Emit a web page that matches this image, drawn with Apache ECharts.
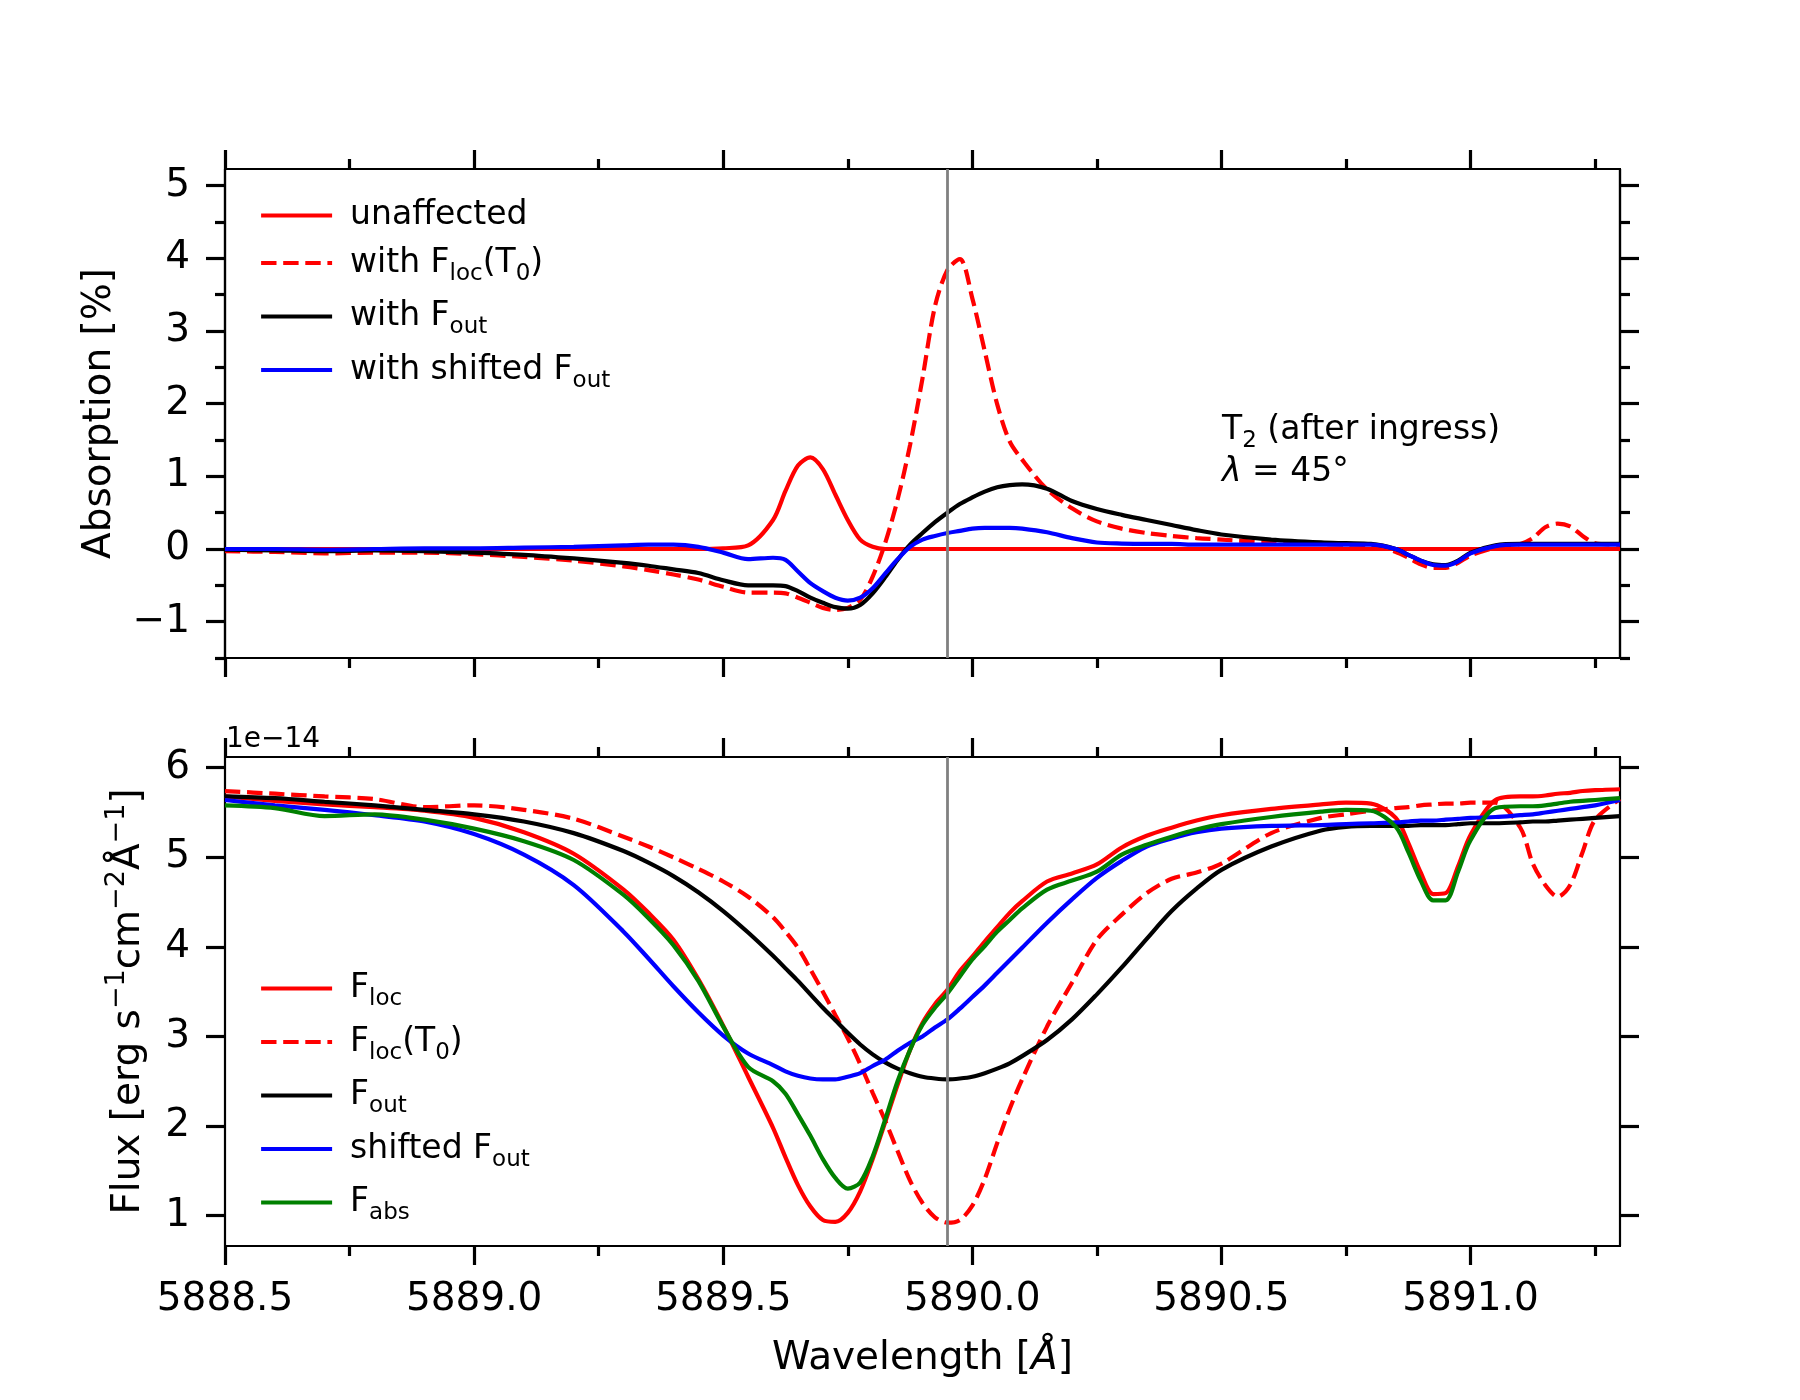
<!DOCTYPE html>
<html>
<head>
<meta charset="utf-8">
<script src="https://cdn.jsdelivr.net/npm/echarts@6/dist/echarts.min.js"></script>
<style>
html,body{margin:0;padding:0;background:#ffffff;}
#chart{width:1800px;height:1400px;}
</style>
</head>
<body>
<div id="chart"></div>
<script>
// ---------------- data ----------------
const wavelength = [5888.5, 5888.6, 5888.7, 5888.8, 5888.9, 5889.0, 5889.1, 5889.2, 5889.3, 5889.35, 5889.4,
  5889.45, 5889.5, 5889.55, 5889.6, 5889.625, 5889.65, 5889.675, 5889.7, 5889.725, 5889.75,
  5889.775, 5889.8, 5889.825, 5889.85, 5889.875, 5889.9, 5889.925, 5889.95, 5889.975, 5890.0,
  5890.025, 5890.05, 5890.075, 5890.1, 5890.15, 5890.2, 5890.25, 5890.3, 5890.35, 5890.4,
  5890.45, 5890.5, 5890.6, 5890.7, 5890.75, 5890.8, 5890.85, 5890.875, 5890.9, 5890.925,
  5890.95, 5890.975, 5891.0, 5891.05, 5891.1, 5891.125, 5891.15, 5891.175, 5891.2, 5891.225,
  5891.25, 5891.3];

// Absorption [%]
const absUnaffected = [0, 0, 0, 0, 0, 0, 0, 0, 0, 0, 0,
  0, 0.01, 0.05, 0.40, 0.80, 1.15, 1.26, 1.10, 0.75, 0.40,
  0.13, 0.03, 0, 0, 0, 0, 0, 0, 0, 0,
  0, 0, 0, 0, 0, 0, 0, 0, 0, 0,
  0, 0, 0, 0, 0, 0, 0, 0, 0, 0,
  0, 0, 0, 0, 0, 0, 0, 0, 0, 0,
  0, 0];
const absWithFlocT0 = [-0.03, -0.04, -0.06, -0.05, -0.05, -0.07, -0.11, -0.16, -0.24, -0.29, -0.35,
  -0.42, -0.52, -0.60, -0.60, -0.61, -0.67, -0.74, -0.81, -0.84, -0.81,
  -0.70, -0.38, 0.08, 0.68, 1.43, 2.35, 3.34, 3.84, 3.99, 3.45,
  2.72, 1.99, 1.48, 1.23, 0.82, 0.56, 0.38, 0.28, 0.22, 0.18,
  0.15, 0.13, 0.09, 0.07, 0.06, 0.05, -0.04, -0.12, -0.21, -0.26,
  -0.26, -0.19, -0.09, 0.02, 0.07, 0.15, 0.30, 0.35, 0.31, 0.18,
  0.08, 0.06];
const absWithFout = [-0.01, -0.02, -0.03, -0.02, -0.03, -0.05, -0.08, -0.13, -0.19, -0.23, -0.28,
  -0.33, -0.43, -0.50, -0.50, -0.51, -0.58, -0.67, -0.74, -0.80, -0.82,
  -0.77, -0.61, -0.39, -0.15, 0.06, 0.22, 0.37, 0.50, 0.62, 0.71,
  0.79, 0.85, 0.88, 0.89, 0.83, 0.66, 0.55, 0.47, 0.40, 0.33,
  0.26, 0.20, 0.13, 0.09, 0.08, 0.07, 0.00, -0.08, -0.16, -0.21,
  -0.22, -0.16, -0.05, 0.05, 0.07, 0.07, 0.07, 0.07, 0.07, 0.07,
  0.07, 0.07];
const absWithShiftedFout = [0.0, 0.0, -0.01, 0.0, 0.01, 0.01, 0.02, 0.03, 0.05, 0.06, 0.06,
  0.03, -0.05, -0.14, -0.12, -0.15, -0.31, -0.47, -0.58, -0.67, -0.71,
  -0.67, -0.54, -0.34, -0.14, 0.03, 0.13, 0.18, 0.22, 0.25, 0.28,
  0.29, 0.29, 0.29, 0.28, 0.23, 0.15, 0.09, 0.075, 0.07, 0.07,
  0.06, 0.06, 0.06, 0.06, 0.06, 0.06, 0.00, -0.08, -0.16, -0.22,
  -0.23, -0.17, -0.06, 0.04, 0.06, 0.06, 0.06, 0.06, 0.06, 0.06,
  0.06, 0.06];

// Flux [1e-14 erg s^-1 cm^-2 A^-1]
const fluxLoc = [5.68, 5.63, 5.59, 5.56, 5.52, 5.44, 5.28, 5.04, 4.64, 4.38, 4.08,
  3.64, 3.12, 2.55, 1.98, 1.65, 1.34, 1.10, 0.95, 0.93, 1.03,
  1.27, 1.63, 2.04, 2.46, 2.85, 3.15, 3.36, 3.52, 3.73, 3.89,
  4.06, 4.22, 4.38, 4.51, 4.73, 4.82, 4.92, 5.11, 5.24, 5.33,
  5.41, 5.47, 5.54, 5.59, 5.61, 5.60, 5.44, 5.16, 4.83, 4.59,
  4.60, 4.90, 5.25, 5.64, 5.68, 5.68, 5.69, 5.71, 5.72, 5.74,
  5.75, 5.76];
const fluxLocT0 = [5.74, 5.71, 5.68, 5.65, 5.56, 5.58, 5.53, 5.43, 5.23, 5.12, 5.00,
  4.87, 4.73, 4.56, 4.33, 4.17, 3.99, 3.75, 3.50, 3.24, 2.98,
  2.69, 2.37, 2.06, 1.72, 1.39, 1.14, 0.98, 0.92, 0.95, 1.11,
  1.41, 1.81, 2.19, 2.52, 3.11, 3.60, 4.08, 4.36, 4.60, 4.76,
  4.83, 4.93, 5.27, 5.44, 5.48, 5.52, 5.55, 5.56, 5.58, 5.59,
  5.60, 5.60, 5.61, 5.61, 5.33, 4.93, 4.69, 4.56, 4.69, 5.06,
  5.42, 5.65];
const fluxOut = [5.68, 5.66, 5.62, 5.58, 5.53, 5.48, 5.40, 5.27, 5.07, 4.94, 4.79,
  4.61, 4.40, 4.16, 3.90, 3.76, 3.62, 3.47, 3.32, 3.18, 3.04,
  2.91, 2.80, 2.71, 2.64, 2.59, 2.55, 2.53, 2.52, 2.53, 2.55,
  2.59, 2.64, 2.70, 2.78, 2.96, 3.19, 3.47, 3.77, 4.09, 4.40,
  4.65, 4.86, 5.12, 5.30, 5.34, 5.35, 5.35, 5.35, 5.36, 5.36,
  5.36, 5.37, 5.38, 5.38, 5.39, 5.40, 5.40, 5.41, 5.42, 5.43,
  5.44, 5.46];
const fluxShiftedOut = [5.64, 5.58, 5.53, 5.47, 5.40, 5.26, 5.03, 4.69, 4.17, 3.87, 3.56,
  3.27, 3.01, 2.81, 2.68, 2.61, 2.56, 2.53, 2.52, 2.52, 2.55,
  2.59, 2.67, 2.74, 2.84, 2.93, 3.00, 3.10, 3.19, 3.31, 3.44,
  3.57, 3.71, 3.85, 3.99, 4.27, 4.53, 4.77, 4.96, 5.12, 5.21,
  5.28, 5.32, 5.35, 5.36, 5.37, 5.38, 5.39, 5.40, 5.41, 5.41,
  5.42, 5.43, 5.44, 5.45, 5.47, 5.48, 5.50, 5.52, 5.54, 5.56,
  5.58, 5.64];
const fluxAbs = [5.58, 5.55, 5.46, 5.48, 5.42, 5.32, 5.18, 4.97, 4.58, 4.32, 4.02,
  3.62, 3.11, 2.66, 2.50, 2.36, 2.13, 1.89, 1.63, 1.42, 1.30,
  1.37, 1.66, 2.07, 2.50, 2.85, 3.13, 3.32, 3.48, 3.67, 3.86,
  4.01, 4.17, 4.30, 4.43, 4.64, 4.74, 4.84, 5.03, 5.14, 5.23,
  5.31, 5.37, 5.45, 5.51, 5.53, 5.52, 5.34, 5.06, 4.74, 4.52,
  4.52, 4.84, 5.19, 5.55, 5.57, 5.57, 5.58, 5.60, 5.62, 5.63,
  5.64, 5.66];

// ticks / labels
const xMajorTicks = [5888.5, 5889.0, 5889.5, 5890.0, 5890.5, 5891.0];
const xMinorTicks = [5888.75, 5889.25, 5889.75, 5890.25, 5890.75, 5891.25];
const absMajorTicks = [-1, 0, 1, 2, 3, 4, 5];
const absMinorTicks = [-1.5, -0.5, 0.5, 1.5, 2.5, 3.5, 4.5];
const fluxMajorTicks = [1, 2, 3, 4, 5, 6];
const restWavelength = 5889.95;
const fluxExponentLabel = '1e\u221214';
const topLegendNames = ['unaffected', 'with Floc(T0)', 'with Fout', 'with shifted Fout'];
const bottomLegendNames = ['Floc', 'Floc(T0)', 'Fout', 'shifted Fout', 'Fabs'];

// ---------------- chart ----------------
const FONT = 'DejaVu Sans';
const X_MIN = 5888.5, X_MAX = 5891.3;
const ABS_MIN = -1.5, ABS_MAX = 5.23;
const FLUX_MIN = 0.66, FLUX_MAX = 6.12;
const SPINE = 2.2, TICKW = 3.2, LINE = 4.2;
const DASH = [15.4, 6.7];
const RED = '#ff0000', BLUE = '#0000ff', BLACK = '#000000', GREEN = '#008000';

const pairs = arr => wavelength.map((w, i) => [w, arr[i]]);
const minusFmt = v => (v < 0 ? '\u2212' + Math.abs(v) : String(v));

function xAx(gridIndex, position, ticks, len, extra) {
  return Object.assign({
    type: 'value', gridIndex: gridIndex, position: position, min: X_MIN, max: X_MAX,
    axisLine: { show: true, onZero: false, lineStyle: { color: '#000', width: SPINE } },
    axisTick: { show: true, inside: false, length: len, customValues: ticks, lineStyle: { color: '#000', width: TICKW } },
    axisLabel: { show: false },
    splitLine: { show: false }, minorTick: { show: false }, minorSplitLine: { show: false }
  }, extra || {});
}
function yAx(gridIndex, position, min, max, ticks, len, extra) {
  return Object.assign({
    type: 'value', gridIndex: gridIndex, position: position, min: min, max: max,
    axisLine: { show: true, onZero: false, lineStyle: { color: '#000', width: SPINE } },
    axisTick: { show: true, inside: false, length: len, customValues: ticks, lineStyle: { color: '#000', width: TICKW } },
    axisLabel: { show: false },
    splitLine: { show: false }, minorTick: { show: false }, minorSplitLine: { show: false }
  }, extra || {});
}

const legendRich = {
  pad: { width: 13, fontSize: 33, lineHeight: 48, fontFamily: FONT },
  n: { fontSize: 33, lineHeight: 48, fontFamily: FONT, color: '#000' },
  s: { fontSize: 23, lineHeight: 26, padding: [22, 0, 0, 0], fontFamily: FONT, color: '#000' }
};
const legendLabels = {
  'unaffected': '{pad| }{n|unaffected}',
  'with Floc(T0)': '{pad| }{n|with F}{s|loc}{n|(T}{s|0}{n|)}',
  'with Fout': '{pad| }{n|with F}{s|out}',
  'with shifted Fout': '{pad| }{n|with shifted F}{s|out}',
  'Floc': '{pad| }{n|F}{s|loc}',
  'Floc(T0)': '{pad| }{n|F}{s|loc}{n|(T}{s|0}{n|)}',
  'Fout': '{pad| }{n|F}{s|out}',
  'shifted Fout': '{pad| }{n|shifted F}{s|out}',
  'Fabs': '{pad| }{n|F}{s|abs}'
};

function lineSeries(name, arr, color, dashed, xi, yi, extra) {
  return Object.assign({
    type: 'line', name: name, data: pairs(arr), xAxisIndex: xi, yAxisIndex: yi,
    symbol: 'none', showSymbol: false, smooth: 0.3,
    lineStyle: { color: color, width: LINE, type: dashed ? DASH : 'solid' },
    itemStyle: { color: color },
    emphasis: { disabled: true }, silent: true, animation: false
  }, extra || {});
}
const restLine = {
  silent: true, symbol: ['none', 'none'], label: { show: false },
  lineStyle: { color: '#808080', width: 2.8, type: 'solid' },
  emphasis: { disabled: true },
  data: [{ xAxis: restWavelength }]
};

const legendCommon = {
  orient: 'vertical', left: 254, itemWidth: 71, itemHeight: 20, itemGap: 8.5, selectedMode: false,
  formatter: name => legendLabels[name],
  itemStyle: { opacity: 0, color: 'transparent', borderWidth: 0 },
  lineStyle: { width: LINE },
  textStyle: { fontSize: 33, fontFamily: FONT, color: '#000', rich: legendRich }
};

const option = {
  animation: false,
  backgroundColor: '#ffffff',
  textStyle: { fontFamily: FONT },
  grid: [
    { left: 225, top: 169, width: 1395, height: 489 },
    { left: 225, top: 757, width: 1395, height: 489 }
  ],
  xAxis: [
    xAx(0, 'bottom', xMajorTicks, 19),
    xAx(0, 'bottom', xMinorTicks, 10),
    xAx(0, 'top', xMajorTicks, 19),
    xAx(0, 'top', xMinorTicks, 10),
    xAx(1, 'bottom', xMajorTicks, 19, {
      axisLabel: { show: true, customValues: xMajorTicks, formatter: v => v.toFixed(1),
        fontSize: 39, fontFamily: FONT, color: '#000', margin: 34 },
      name: '{n|Wavelength [}{i|\u00c5}{n|]}', nameLocation: 'middle', nameGap: 90,
      nameTextStyle: { fontSize: 39, fontFamily: FONT, color: '#000',
        rich: { n: { fontSize: 39, lineHeight: 46, fontFamily: FONT, color: '#000' },
                i: { fontSize: 39, lineHeight: 46, fontFamily: FONT, fontStyle: 'italic', color: '#000' } } }
    }),
    xAx(1, 'bottom', xMinorTicks, 10),
    xAx(1, 'top', xMajorTicks, 19),
    xAx(1, 'top', xMinorTicks, 10)
  ],
  yAxis: [
    yAx(0, 'left', ABS_MIN, ABS_MAX, absMajorTicks, 19, {
      axisLabel: { show: true, customValues: absMajorTicks, formatter: minusFmt,
        fontSize: 39, fontFamily: FONT, color: '#000', margin: 35 },
      name: 'Absorption [%]', nameLocation: 'middle', nameGap: 106, nameRotate: 90,
      nameTextStyle: { fontSize: 39, fontFamily: FONT, color: '#000' }
    }),
    yAx(0, 'left', ABS_MIN, ABS_MAX, absMinorTicks, 10),
    yAx(0, 'right', ABS_MIN, ABS_MAX, absMajorTicks, 19),
    yAx(0, 'right', ABS_MIN, ABS_MAX, absMinorTicks, 10),
    yAx(1, 'left', FLUX_MIN, FLUX_MAX, fluxMajorTicks, 19, {
      axisLabel: { show: true, customValues: fluxMajorTicks, formatter: minusFmt,
        fontSize: 39, fontFamily: FONT, color: '#000', margin: 35 },
      name: '{n|Flux [erg s}{u|\u22121}{n|cm}{u|\u22122}{n|\u00c5}{u|\u22121}{n|]}',
      nameLocation: 'middle', nameGap: 62, nameRotate: 90,
      nameTextStyle: { fontSize: 39, fontFamily: FONT, color: '#000',
        rich: { n: { fontSize: 39, lineHeight: 46, fontFamily: FONT, color: '#000' },
                u: { fontSize: 27, lineHeight: 30, padding: [0, 0, 24, 0], fontFamily: FONT, color: '#000' } } }
    }),
    yAx(1, 'right', FLUX_MIN, FLUX_MAX, fluxMajorTicks, 19)
  ],
  legend: [
    Object.assign({ data: topLegendNames, top: 194 }, legendCommon),
    Object.assign({ data: bottomLegendNames, top: 961 }, legendCommon)
  ],
  graphic: [
    { type: 'text', left: 226, top: 724, silent: true,
      style: { text: fluxExponentLabel, fontSize: 28, fontFamily: FONT, fill: '#000', lineHeight: 32 } },
    { type: 'text', left: 1222, top: 408, silent: true,
      style: { text: '{n|T}{s|2}{n| (after ingress)}', fill: '#000',
        rich: { n: { fontSize: 33, lineHeight: 48, fontFamily: FONT, fill: '#000' },
                s: { fontSize: 23, lineHeight: 26, padding: [22, 0, 0, 0], fontFamily: FONT, fill: '#000' } } } },
    { type: 'text', left: 1222, top: 456, silent: true,
      style: { text: '{i|\u03bb}{n| = 45\u00b0}', fill: '#000',
        rich: { n: { fontSize: 33, lineHeight: 40, fontFamily: FONT, fill: '#000' },
                i: { fontSize: 33, lineHeight: 40, fontFamily: FONT, fontStyle: 'italic', fill: '#000' } } } }
  ],
  series: [
    lineSeries('unaffected', absUnaffected, RED, false, 0, 0, { markLine: restLine }),
    lineSeries('with Floc(T0)', absWithFlocT0, RED, true, 0, 0),
    lineSeries('with Fout', absWithFout, BLACK, false, 0, 0),
    lineSeries('with shifted Fout', absWithShiftedFout, BLUE, false, 0, 0),
    lineSeries('Floc', fluxLoc, RED, false, 4, 4, { markLine: restLine }),
    lineSeries('Floc(T0)', fluxLocT0, RED, true, 4, 4),
    lineSeries('Fout', fluxOut, BLACK, false, 4, 4),
    lineSeries('shifted Fout', fluxShiftedOut, BLUE, false, 4, 4),
    lineSeries('Fabs', fluxAbs, GREEN, false, 4, 4)
  ]
};

const chart = echarts.init(document.getElementById('chart'), null, { renderer: 'canvas', width: 1800, height: 1400 });
chart.setOption(option);
</script>
</body>
</html>
